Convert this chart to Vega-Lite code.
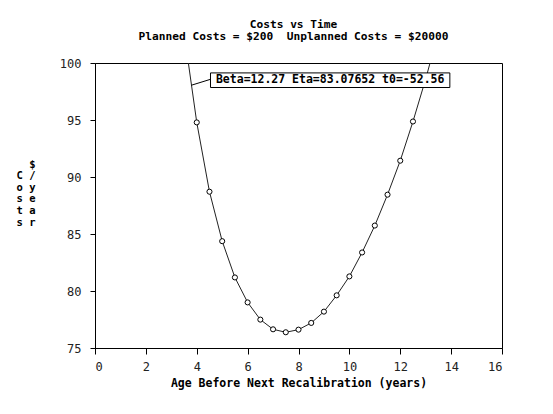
{
  "$schema": "https://vega.github.io/schema/vega-lite/v6.json",
  "width": 407,
  "height": 285,
  "autosize": "none",
  "padding": {"left": 95, "top": 63, "right": 51, "bottom": 66},
  "background": "white",
  "title": {
    "text": ["Costs vs Time", "Planned Costs = $200\u00a0\u00a0Unplanned Costs = $20000"],
    "font": "DejaVu Sans Mono",
    "fontWeight": "bold",
    "fontSize": 11.2,
    "lineHeight": 11.5,
    "color": "black",
    "anchor": "middle",
    "dx": -5,
    "offset": 15
  },
  "datasets": {
    "curve": [
      {"age": 3.5, "cost": 102.7},
      {"age": 4.0, "cost": 94.79},
      {"age": 4.5, "cost": 88.71},
      {"age": 5.0, "cost": 84.37},
      {"age": 5.5, "cost": 81.19},
      {"age": 6.0, "cost": 79.0},
      {"age": 6.5, "cost": 77.49},
      {"age": 7.0, "cost": 76.64},
      {"age": 7.5, "cost": 76.38},
      {"age": 8.0, "cost": 76.61},
      {"age": 8.5, "cost": 77.2},
      {"age": 9.0, "cost": 78.19},
      {"age": 9.5, "cost": 79.62},
      {"age": 10.0, "cost": 81.28},
      {"age": 10.5, "cost": 83.38},
      {"age": 11.0, "cost": 85.74},
      {"age": 11.5, "cost": 88.45},
      {"age": 12.0, "cost": 91.43},
      {"age": 12.5, "cost": 94.87},
      {"age": 13.0, "cost": 98.6},
      {"age": 13.5, "cost": 102.7}
    ],
    "label": [
      {"x1": 4.54, "x2": 13.95, "y1": 99.13, "y2": 97.85, "xc": 9.245, "yc": 98.49, "lx1": 4.54, "ly1": 98.57, "lx2": 3.79, "ly2": 98.05, "text": "Beta=12.27 Eta=83.07652 t0=-52.56"}
    ]
  },
  "layer": [
    {
      "data": {"name": "curve"},
      "mark": {"type": "line", "color": "#222", "strokeWidth": 1, "clip": true},
      "encoding": {
        "x": {"field": "age", "type": "quantitative"},
        "y": {"field": "cost", "type": "quantitative"}
      }
    },
    {
      "data": {"name": "curve"},
      "mark": {"type": "point", "shape": "circle", "filled": false, "fill": "white", "fillOpacity": 1, "stroke": "black", "strokeWidth": 1, "size": 26, "opacity": 1, "clip": true},
      "encoding": {
        "x": {"field": "age", "type": "quantitative"},
        "y": {"field": "cost", "type": "quantitative"}
      }
    },
    {
      "data": {"name": "label"},
      "mark": {"type": "rule", "color": "black", "strokeWidth": 1},
      "encoding": {
        "x": {"field": "lx1", "type": "quantitative"},
        "x2": {"field": "lx2"},
        "y": {"field": "ly1", "type": "quantitative"},
        "y2": {"field": "ly2"}
      }
    },
    {
      "data": {"name": "label"},
      "mark": {"type": "rect", "fill": "white", "stroke": "black", "strokeWidth": 1},
      "encoding": {
        "x": {"field": "x1", "type": "quantitative"},
        "x2": {"field": "x2"},
        "y": {"field": "y1", "type": "quantitative"},
        "y2": {"field": "y2"}
      }
    },
    {
      "data": {"name": "label"},
      "mark": {"type": "text", "font": "DejaVu Sans Mono", "fontWeight": "bold", "fontSize": 11.5, "color": "black", "align": "center", "baseline": "middle"},
      "encoding": {
        "x": {"field": "xc", "type": "quantitative"},
        "y": {"field": "yc", "type": "quantitative"},
        "text": {"field": "text"}
      }
    }
  ],
  "resolve": {"scale": {"x": "shared", "y": "shared"}},
  "encoding": {
    "x": {
      "type": "quantitative",
      "scale": {"domain": [0, 16], "nice": false, "zero": false},
      "axis": {
        "title": "Age Before Next Recalibration (years)",
        "values": [0, 2, 4, 6, 8, 10, 12, 14, 16],
        "grid": false,
        "tickSize": 6,
        "labelPadding": 7,
        "titlePadding": 5
      }
    },
    "y": {
      "type": "quantitative",
      "scale": {"domain": [75, 100], "nice": false, "zero": false},
      "axis": {
        "title": ["$", "C\u00a0/", "o\u00a0y", "s\u00a0e", "t\u00a0a", "s\u00a0r"],
        "values": [75, 80, 85, 90, 95, 100],
        "grid": false,
        "tickSize": 5,
        "labelPadding": 9,
        "titleAngle": 0,
        "titleAlign": "right",
        "titleBaseline": "top",
        "titleX": -60,
        "titleY": 96,
        "titleFontSize": 10.5,
        "titleLineHeight": 11.6
      }
    }
  },
  "config": {
    "view": {"stroke": "black", "strokeWidth": 1},
    "axis": {
      "domainColor": "black",
      "tickColor": "black",
      "labelFont": "DejaVu Sans Mono",
      "labelFontSize": 12,
      "labelColor": "#222",
      "titleFont": "DejaVu Sans Mono",
      "titleFontWeight": "bold",
      "titleFontSize": 11.5,
      "titleColor": "black"
    }
  }
}
